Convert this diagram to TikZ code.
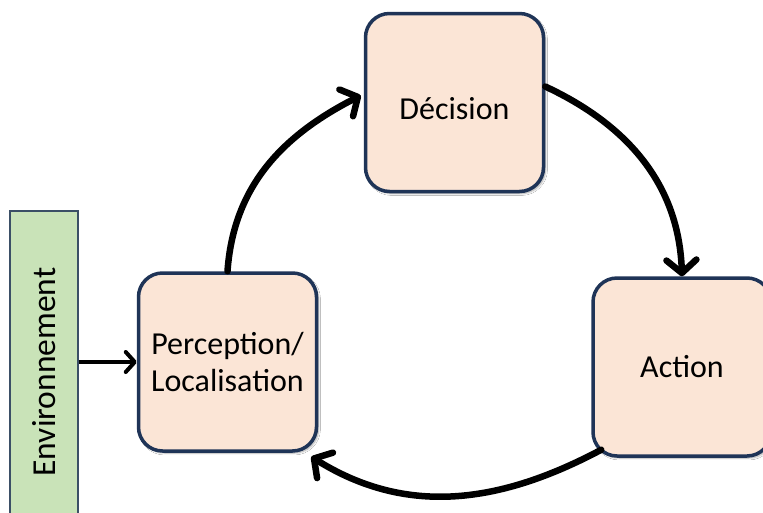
\documentclass[tikz,border=0pt]{standalone}
\usepackage{fontspec}
\setmainfont{Carlito}
\usetikzlibrary{arrows.meta,calc,shadows.blur}
\definecolor{boxfill}{HTML}{FBE5D6}
\definecolor{boxline}{HTML}{1F3457}
\definecolor{envfill}{HTML}{C9E3B8}
\definecolor{envline}{HTML}{3B4F66}
\tikzset{
  stage/.style={draw=boxline, line width=3.5pt, fill=boxfill, rounded corners=24pt,
    minimum width=178pt, minimum height=178pt, align=center,
    font=\fontsize{32}{37}\selectfont, text=black,
    blur shadow={shadow blur steps=6, shadow xshift=2pt, shadow yshift=-2pt, shadow opacity=35}},
  envbox/.style={draw=envline, line width=1.3pt, fill=envfill,
    minimum width=322pt, minimum height=68pt, rotate=90,
    font=\fontsize{33.5}{40}\selectfont, text=black},
  cyc/.style={line width=6.5pt, line cap=round,
    -{Straight Barb[length=13pt,width=30pt,line width=6.5pt,round]}},
  feed/.style={line width=4pt,
    -{Straight Barb[length=9pt,width=20pt,line width=4pt,round]}}
}
\begin{document}
\begin{tikzpicture}[x=1pt,y=1pt]
\useasboundingbox (0,0) rectangle (763,-512);
\clip (0,0) rectangle (763,-512);
\fill[white] (0,0) rectangle (763,-512);
\node[envbox] (env) at (44,-372) {Environnement};
\node[stage, text height=33pt, text depth=0pt] (dec) at (454.5,-102.5) {Décision};
\node[stage] (act) at (682,-367) {Action};
\node[stage] (perc) at (227.5,-362) {Perception/\\Localisation};
\draw[cyc] (perc.north) to[out=86,in=207] ($(dec.west)+(-3,7)$);
\draw[cyc] (dec.10) to[out=-25,in=92] (act.north);
\draw[cyc] ($(act.south west)+(10,8)$) to[out=208,in=-32] ($(perc.south east)+(-7,-4)$);
\draw[feed] (env.south |- perc.west) -- (perc.west);
\end{tikzpicture}
\end{document}
